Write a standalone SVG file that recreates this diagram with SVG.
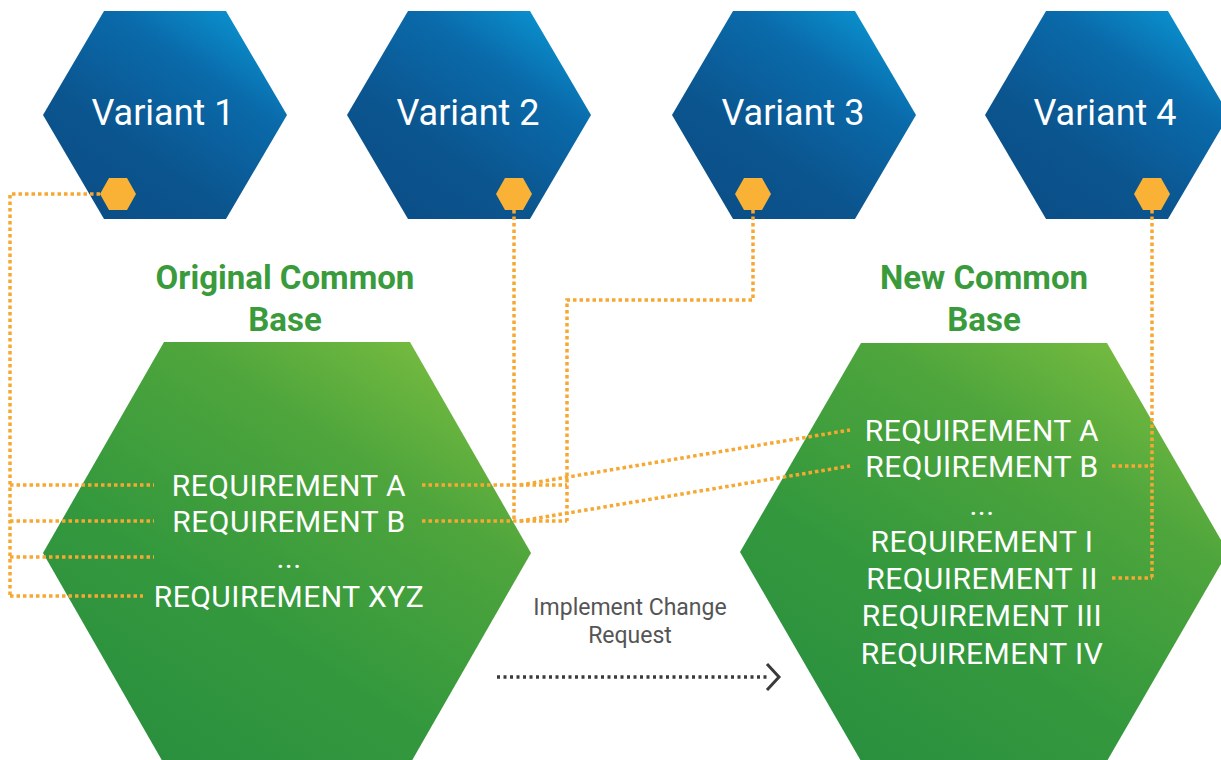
<svg xmlns="http://www.w3.org/2000/svg" width="1221" height="760" viewBox="0 0 1221 760">
  <defs>
    <linearGradient id="blueFill" x1="1" y1="0" x2="0.2" y2="1">
      <stop offset="0" stop-color="#0aa2de"/>
      <stop offset="0.35" stop-color="#0a6aaa"/>
      <stop offset="0.7" stop-color="#0b558f"/>
      <stop offset="1" stop-color="#0b4e87"/>
    </linearGradient>
    <linearGradient id="greenFill" x1="1" y1="0" x2="0.25" y2="1">
      <stop offset="0" stop-color="#86c442"/>
      <stop offset="0.35" stop-color="#4ea53c"/>
      <stop offset="0.7" stop-color="#33983d"/>
      <stop offset="1" stop-color="#2b903e"/>
    </linearGradient>
    <style>
      .variant { fill: url(#blueFill); }
      .base { fill: url(#greenFill); }
      .port { fill: #f9b236; }
      .vlabel { font-family: Roboto, "Liberation Sans", sans-serif; font-size: 36px; fill: #ffffff; text-anchor: middle; }
      .title { font-family: Roboto, "Liberation Sans", sans-serif; font-size: 33px; font-weight: 700; fill: #3a9b3c; text-anchor: middle; }
      .req { font-family: Roboto, "Liberation Sans", sans-serif; font-size: 30px; letter-spacing: 0.5px; fill: #ffffff; text-anchor: middle; }
      .note { font-family: Roboto, "Liberation Sans", sans-serif; font-size: 23px; fill: #555555; text-anchor: middle; }
      .link { fill: none; stroke: #f7a833; stroke-width: 3.5; stroke-dasharray: 3.5 3; }
      .flow { fill: none; stroke: #3a3a3a; stroke-width: 3.5; stroke-dasharray: 3 3.5; }
      .head { fill: none; stroke: #3a3a3a; stroke-width: 3; }
    </style>
  </defs>

  <rect width="1221" height="760" fill="#ffffff"/>

  <!-- variant hexagons -->
  <g id="variant-1">
    <polygon class="variant" points="43,115 104,11 226,11 287,115 226,219 104,219"/>
    <text class="vlabel" x="163" y="125">Variant 1</text>
    <polygon class="port" points="100,194 109,178 127,178 136,194 127,210 109,210"/>
  </g>
  <g id="variant-2">
    <polygon class="variant" points="347,115 408,11 530,11 591,115 530,219 408,219"/>
    <text class="vlabel" x="468" y="125">Variant 2</text>
    <polygon class="port" points="496,194 505,178 523,178 532,194 523,210 505,210"/>
  </g>
  <g id="variant-3">
    <polygon class="variant" points="672,115 733,11 855,11 916,115 855,219 733,219"/>
    <text class="vlabel" x="793" y="125">Variant 3</text>
    <polygon class="port" points="735,194 744,178 762,178 771,194 762,210 744,210"/>
  </g>
  <g id="variant-4">
    <polygon class="variant" points="985,115 1046,11 1168,11 1229,115 1168,219 1046,219"/>
    <text class="vlabel" x="1105" y="125">Variant 4</text>
    <polygon class="port" points="1134,194 1143,178 1161,178 1170,194 1161,210 1143,210"/>
  </g>

  <!-- common bases -->
  <g id="original-base">
    <text class="title" x="285" y="289">Original Common</text>
    <text class="title" x="285" y="331">Base</text>
    <polygon class="base" points="43,553 164,342 410,342 531,553 410,764 164,764"/>
    <text class="req" x="289" y="496">REQUIREMENT A</text>
    <text class="req" x="289" y="532">REQUIREMENT B</text>
    <text class="req" x="289" y="568">...</text>
    <text class="req" x="289" y="607">REQUIREMENT XYZ</text>
  </g>
  <g id="new-base">
    <text class="title" x="984" y="289">New Common</text>
    <text class="title" x="984" y="331">Base</text>
    <polygon class="base" points="740,552 861,343 1107,343 1228,552 1107,761 861,761"/>
    <text class="req" x="982" y="441">REQUIREMENT A</text>
    <text class="req" x="982" y="477">REQUIREMENT B</text>
    <text class="req" x="982" y="515">...</text>
    <text class="req" x="982" y="552">REQUIREMENT I</text>
    <text class="req" x="982" y="589">REQUIREMENT II</text>
    <text class="req" x="982" y="626">REQUIREMENT III</text>
    <text class="req" x="982" y="664">REQUIREMENT IV</text>
  </g>

  <!-- change request -->
  <g id="change-request">
    <text class="note" x="630" y="615">Implement Change</text>
    <text class="note" x="630" y="643">Request</text>
  </g>

  <!-- connectors -->
  <g id="connectors">
    <!-- variant 1 to every original requirement -->
    <path class="link" d="M100,194 H10 V596"/>
    <path class="link" d="M10,485 H154"/>
    <path class="link" d="M10,521 H154"/>
    <path class="link" d="M10,557 H154"/>
    <path class="link" d="M10,596 H143"/>
    <!-- variant 2 -->
    <path class="link" d="M514,210 V521"/>
    <!-- variant 3 -->
    <path class="link" d="M753,210 V300 H567 V521"/>
    <!-- original requirements carried to the new base -->
    <path class="link" d="M422,485 H567"/>
    <path class="link" d="M422,521 H567"/>
    <path class="link" d="M520,485 L850,430"/>
    <path class="link" d="M520,521 L850,466"/>
    <!-- variant 4 -->
    <path class="link" d="M1152,210 V578"/>
    <path class="link" d="M1112,466 H1152"/>
    <path class="link" d="M1112,578 H1152"/>
    <!-- change request arrow -->
    <path class="flow" d="M497,677 H768"/>
    <path class="head" d="M767,664 L779,677 L767,690"/>
  </g>
</svg>
